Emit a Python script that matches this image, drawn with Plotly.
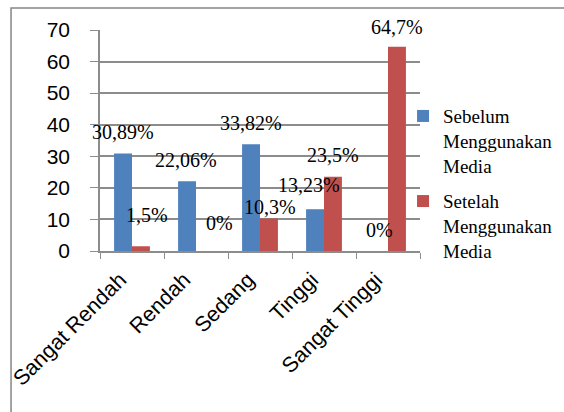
import plotly.graph_objects as go

categories = ["Sangat Rendah", "Rendah", "Sedang", "Tinggi", "Sangat Tinggi"]
sebelum = [30.89, 22.06, 33.82, 13.23, 0]
setelah = [1.5, 0, 10.3, 23.5, 64.7]
sebelum_labels = ["30,89%", "22,06%", "33,82%", "13,23%", "0%"]
setelah_labels = ["1,5%", "0%", "10,3%", "23,5%", "64,7%"]
y_ticks = [0, 10, 20, 30, 40, 50, 60, 70]

BLUE = "#4F81BD"
RED = "#C0504D"
GRID = "#8C8C8C"
SERIF = "Times New Roman, Liberation Serif, DejaVu Serif, serif"
SANS = "Liberation Sans, Arial, sans-serif"

fig = go.Figure()
fig.add_trace(go.Bar(x=categories, y=sebelum, name="Sebelum<br>Menggunakan<br>Media",
                     legendgroup="a", marker=dict(color=BLUE, line=dict(width=0))))
fig.add_trace(go.Bar(x=categories, y=setelah, name="Setelah<br>Menggunakan<br>Media",
                     legendgroup="b", marker=dict(color=RED, line=dict(width=0))))

# data labels (manually offset like in the original)
seb_shift = [(0, 21), (-1, 21), (0, 21), (-6, 24), (0, 21)]
set_shift = [(6, 31), (14, 28), (1, 11), (0, 22), (0, 20)]
for i, c in enumerate(categories):
    fig.add_annotation(x=c, y=sebelum[i], text=sebelum_labels[i], showarrow=False,
                       xshift=-9 + seb_shift[i][0], yshift=seb_shift[i][1],
                       font=dict(family=SERIF, size=20, color="black"))
    fig.add_annotation(x=c, y=setelah[i], text=setelah_labels[i], showarrow=False,
                       xshift=9 + set_shift[i][0], yshift=set_shift[i][1],
                       font=dict(family=SERIF, size=20, color="black"))

# outer chart frame
fig.add_shape(type="rect", xref="paper", yref="paper",
              x0=-0.278, x1=1.6, y0=-1.0, y1=1.0995,
              line=dict(color="#868686", width=1.5), fillcolor="rgba(0,0,0,0)", layer="below")

fig.update_layout(
    width=564, height=412,
    font=dict(family=SERIF, color="black"),
    margin=dict(l=100, r=144, t=30, b=161, autoexpand=False),
    paper_bgcolor="white", plot_bgcolor="white",
    barmode="group", bargap=0.44, bargroupgap=0,
    showlegend=True,
    legend=dict(x=0.947, xanchor="left", y=0.305, yanchor="middle", valign="top",
                traceorder="grouped", tracegroupgap=8,
                font=dict(family=SERIF, size=19, color="black"),
                itemwidth=30, bgcolor="rgba(0,0,0,0)"),
    xaxis=dict(range=[-0.5, 4.5], autorange=False,
               showline=True, linecolor=GRID, linewidth=1.5, automargin=False,
               ticks="outside", tickson="boundaries", ticklen=6, tickcolor=GRID,
               ticklabelstandoff=6, ticklabelshift=-12,
               tickangle=-45, tickfont=dict(family=SANS, size=21.5, color="black"),
               showgrid=False),
    yaxis=dict(range=[0, 70], autorange=False, tickvals=y_ticks, showline=True,
               linecolor=GRID, linewidth=1.5,
               ticks="outside", ticklen=8, tickcolor=GRID, ticklabelstandoff=16,
               automargin=False,
               showgrid=True, gridcolor=GRID, gridwidth=1.5,
               tickfont=dict(family=SANS, size=21, color="black"), zeroline=False),
)

fig.write_html("out.html")
